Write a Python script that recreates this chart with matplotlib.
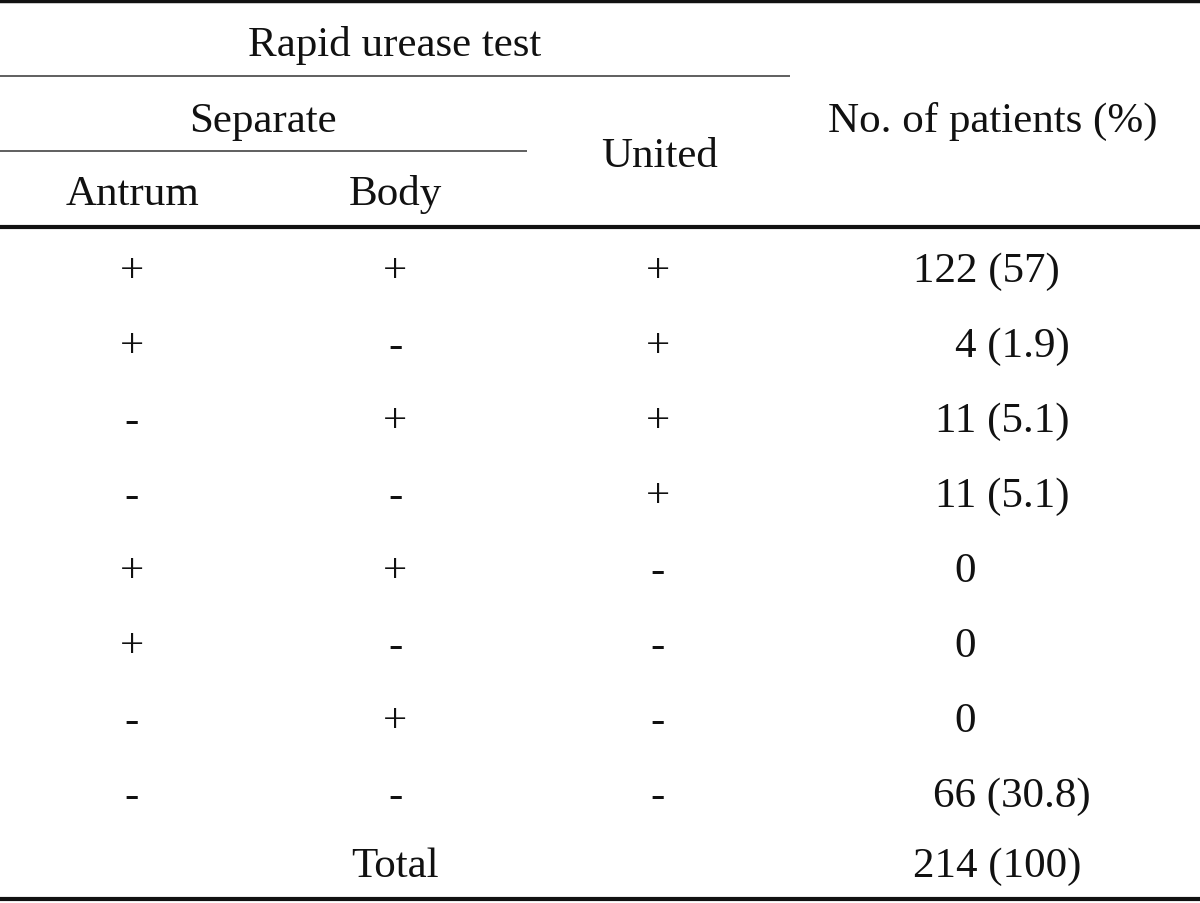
import matplotlib
matplotlib.use("Agg")
import matplotlib.pyplot as plt

# ---- table data ----
antrum = ['+', '+', '-', '-', '+', '+', '-', '-']
body = ['+', '-', '+', '-', '+', '-', '+', '-']
united = ['+', '+', '+', '+', '-', '-', '-', '-']
counts = [122, 4, 11, 11, 0, 0, 0, 66]
percents = ['57', '1.9', '5.1', '5.1', None, None, None, '30.8']
total_label = 'Total'
total_count = 214
total_pct = '100'

header_top = 'Rapid urease test'
header_mid = 'Separate'
header_united = 'United'
header_patients = 'No. of patients (%)'
header_sub = ['Antrum', 'Body']

# ---- layout (pixels, y downward) ----
W, H = 1200, 904
fig = plt.figure(figsize=(W / 100, H / 100), dpi=100)
ax = fig.add_axes([0, 0, 1, 1])
ax.set_xlim(0, W)
ax.set_ylim(H, 0)
ax.axis('off')

FONT = 'Liberation Serif'
FS = 31
col_x = [132, 395, 658]
num_x = [986, 1012, 1002, 1002, 965, 965, 965, 1012]
row_base0 = 282
row_step = 75

def txt(x, y, s, ha='center'):
    ax.text(x, y, s, ha=ha, va='baseline', fontsize=FS, family=FONT, color='#111111')

# rules
ax.plot([0, W], [2, 2], color='#111111', lw=3.2, solid_capstyle='butt')
ax.plot([0, 790], [77, 77], color='#444444', lw=1.2, solid_capstyle='butt')
ax.plot([0, 527], [152, 152], color='#444444', lw=1.2, solid_capstyle='butt')
ax.plot([0, W], [228, 228], color='#111111', lw=3.0, solid_capstyle='butt')
ax.plot([0, W], [900, 900], color='#111111', lw=3.0, solid_capstyle='butt')

# headers
txt(395, 56, header_top)
txt(263, 132, header_mid)
txt(660, 167, header_united)
txt(993, 132, header_patients)
txt(col_x[0], 205, header_sub[0])
txt(col_x[1], 205, header_sub[1])

# body rows
for i in range(len(counts)):
    y = row_base0 + i * row_step
    txt(col_x[0], y, antrum[i])
    txt(col_x[1], y, body[i])
    txt(col_x[2], y, united[i])
    s = f'{counts[i]}' if percents[i] is None else f'{counts[i]} ({percents[i]})'
    txt(num_x[i], y, s)

ytot = row_base0 + len(counts) * row_step - 5
txt(395, ytot, total_label)
txt(997, ytot, f'{total_count} ({total_pct})')

fig.savefig('out.png', dpi=100, facecolor='white')
